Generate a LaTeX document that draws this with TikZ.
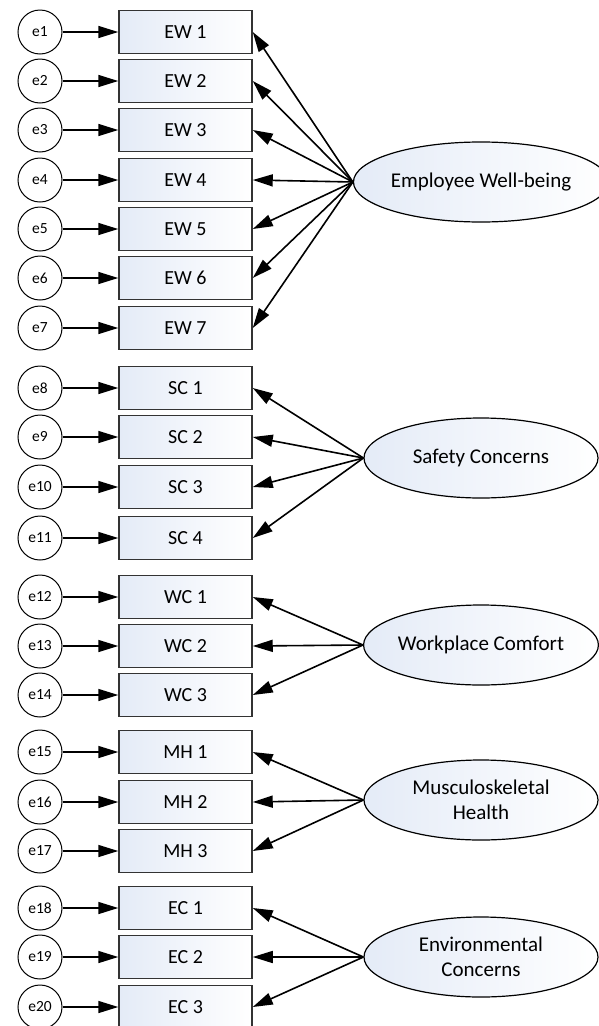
\documentclass[tikz,border=0pt]{standalone}
\usepackage{fontspec}
\setmainfont{Carlito}
\usetikzlibrary{shapes.geometric,arrows.meta}
\definecolor{paleblue}{RGB}{228,235,247}
\tikzset{err/.style = {shape=circle,draw,line width=1pt,minimum size=44pt,inner sep=0pt,font=\fontsize{15.5}{17}\selectfont}}
\tikzset{ind/.style = {shape=rectangle,draw=black!80,line width=1.5pt,minimum width=133pt,minimum height=43pt,left color=paleblue,right color=white,font=\fontsize{20}{22}\selectfont}}
\tikzset{lat/.style = {shape=ellipse,draw,line width=1.2pt,minimum width=234pt,minimum height=80pt,inner sep=0pt,left color=paleblue,right color=white,align=center,font=\fontsize{21}{25}\selectfont}}
\tikzset{edge/.style = {-{Triangle[length=20pt,width=12pt]},line width=1.6pt}}

\begin{document}
\begin{tikzpicture}[x=1pt,y=-1pt]
  \useasboundingbox (0,0) rectangle (599,1026);

  % error terms
  \node[err] (e1) at (40, 32) {e1};
  \node[err] (e2) at (40, 81) {e2};
  \node[err] (e3) at (40, 130) {e3};
  \node[err] (e4) at (40, 180) {e4};
  \node[err] (e5) at (40, 229) {e5};
  \node[err] (e6) at (40, 278) {e6};
  \node[err] (e7) at (40, 328) {e7};
  \node[err] (e8) at (40, 388) {e8};
  \node[err] (e9) at (40, 437) {e9};
  \node[err] (e10) at (40, 487) {e10};
  \node[err] (e11) at (40, 538) {e11};
  \node[err] (e12) at (40, 597) {e12};
  \node[err] (e13) at (40, 646) {e13};
  \node[err] (e14) at (40, 695) {e14};
  \node[err] (e15) at (40, 752) {e15};
  \node[err] (e16) at (40, 802) {e16};
  \node[err] (e17) at (40, 851) {e17};
  \node[err] (e18) at (40, 908) {e18};
  \node[err] (e19) at (40, 957) {e19};
  \node[err] (e20) at (40, 1007) {e20};

  % indicators
  \node[ind] (ew1) at (185.5, 32) {EW 1};
  \node[ind] (ew2) at (185.5, 81) {EW 2};
  \node[ind] (ew3) at (185.5, 130) {EW 3};
  \node[ind] (ew4) at (185.5, 180) {EW 4};
  \node[ind] (ew5) at (185.5, 229) {EW 5};
  \node[ind] (ew6) at (185.5, 278) {EW 6};
  \node[ind] (ew7) at (185.5, 328) {EW 7};
  \node[ind] (sc1) at (185.5, 388) {SC 1};
  \node[ind] (sc2) at (185.5, 437) {SC 2};
  \node[ind] (sc3) at (185.5, 487) {SC 3};
  \node[ind] (sc4) at (185.5, 538) {SC 4};
  \node[ind] (wc1) at (185.5, 597) {WC 1};
  \node[ind] (wc2) at (185.5, 646) {WC 2};
  \node[ind] (wc3) at (185.5, 695) {WC 3};
  \node[ind] (mh1) at (185.5, 752) {MH 1};
  \node[ind] (mh2) at (185.5, 802) {MH 2};
  \node[ind] (mh3) at (185.5, 851) {MH 3};
  \node[ind] (ec1) at (185.5, 908) {EC 1};
  \node[ind] (ec2) at (185.5, 957) {EC 2};
  \node[ind] (ec3) at (185.5, 1007) {EC 3};

  % latent factors
  \node[lat] (EW) at (481, 182) {Employee Well-being};
  \node[lat] (SC) at (481, 458) {Safety Concerns};
  \node[lat] (WC) at (481, 645) {Workplace Comfort};
  \node[lat] (MH) at (481, 800) {Musculoskeletal\\Health};
  \node[lat] (EC) at (481, 957) {Environmental\\Concerns};

  \draw[edge] (e1) -- (ew1);
  \draw[edge] (e2) -- (ew2);
  \draw[edge] (e3) -- (ew3);
  \draw[edge] (e4) -- (ew4);
  \draw[edge] (e5) -- (ew5);
  \draw[edge] (e6) -- (ew6);
  \draw[edge] (e7) -- (ew7);
  \draw[edge] (e8) -- (sc1);
  \draw[edge] (e9) -- (sc2);
  \draw[edge] (e10) -- (sc3);
  \draw[edge] (e11) -- (sc4);
  \draw[edge] (e12) -- (wc1);
  \draw[edge] (e13) -- (wc2);
  \draw[edge] (e14) -- (wc3);
  \draw[edge] (e15) -- (mh1);
  \draw[edge] (e16) -- (mh2);
  \draw[edge] (e17) -- (mh3);
  \draw[edge] (e18) -- (ec1);
  \draw[edge] (e19) -- (ec2);
  \draw[edge] (e20) -- (ec3);

  \draw[edge] (EW.west) -- (ew1.east);
  \draw[edge] (EW.west) -- (ew2.east);
  \draw[edge] (EW.west) -- (ew3.east);
  \draw[edge] (EW.west) -- (ew4.east);
  \draw[edge] (EW.west) -- (ew5.east);
  \draw[edge] (EW.west) -- (ew6.east);
  \draw[edge] (EW.west) -- (ew7.east);
  \draw[edge] (SC.west) -- (sc1.east);
  \draw[edge] (SC.west) -- (sc2.east);
  \draw[edge] (SC.west) -- (sc3.east);
  \draw[edge] (SC.west) -- (sc4.east);
  \draw[edge] (WC.west) -- (wc1.east);
  \draw[edge] (WC.west) -- (wc2.east);
  \draw[edge] (WC.west) -- (wc3.east);
  \draw[edge] (MH.west) -- (mh1.east);
  \draw[edge] (MH.west) -- (mh2.east);
  \draw[edge] (MH.west) -- (mh3.east);
  \draw[edge] (EC.west) -- (ec1.east);
  \draw[edge] (EC.west) -- (ec2.east);
  \draw[edge] (EC.west) -- (ec3.east);
\end{tikzpicture}
\end{document}
